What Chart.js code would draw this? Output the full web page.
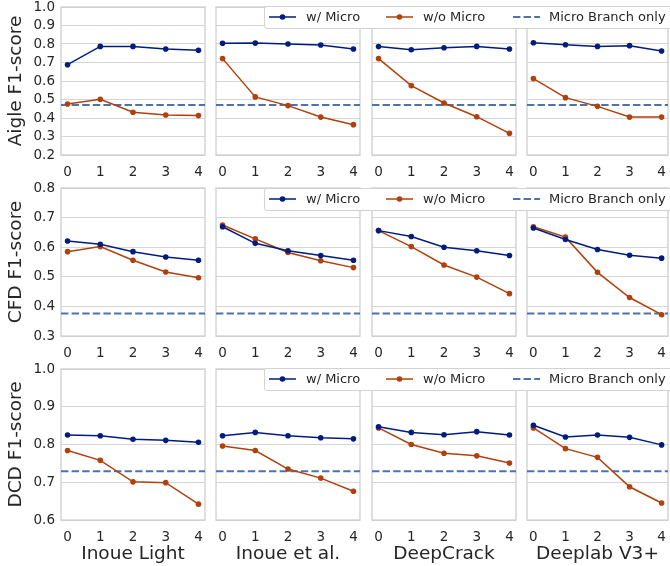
<!DOCTYPE html>
<html>
<head>
<meta charset="utf-8">
<script src="https://cdn.jsdelivr.net/npm/chart.js@4"></script>
<style>
  html, body { margin: 0; padding: 0; overflow: hidden; background: #fff; }
  #wrap { position: relative; width: 672px; height: 566px; }
  #wrap canvas { position: absolute; left: 0; top: 0; }
  .legend { position: absolute; left: 264px; width: 420px; height: 23px; box-sizing: border-box;
            background: #fff; border: 1px solid #d2d2d2; border-radius: 3px; z-index: 2;
            font: 13px "DejaVu Sans"; color: #262626; }
  .legend span { position: absolute; top: 0; line-height: 20px; white-space: nowrap; }
  .legend svg { position: absolute; top: 0; }
</style>
</head>
<body>
<div id="wrap"></div>
<script>
const steps = [0, 1, 2, 3, 4];
const models = ['Inoue Light', 'Inoue et al.', 'DeepCrack', 'Deeplab V3+'];
const datasetNames = ['Aigle', 'CFD', 'DCD'];
const seriesNames = ['w/ Micro', 'w/o Micro', 'Micro Branch only'];

// one inner array per model (Inoue Light, Inoue et al., DeepCrack, Deeplab V3+)
const aigleWith = [
  [0.688, 0.787, 0.787, 0.773, 0.766],
  [0.804, 0.805, 0.800, 0.795, 0.773],
  [0.786, 0.769, 0.780, 0.787, 0.773],
  [0.807, 0.796, 0.787, 0.791, 0.762]
];
const aigleWithout = [
  [0.476, 0.501, 0.431, 0.416, 0.413],
  [0.721, 0.514, 0.467, 0.405, 0.364],
  [0.721, 0.575, 0.481, 0.407, 0.317],
  [0.613, 0.510, 0.463, 0.405, 0.405]
];
const cfdWith = [
  [0.621, 0.610, 0.585, 0.567, 0.556],
  [0.669, 0.613, 0.588, 0.572, 0.556],
  [0.656, 0.636, 0.600, 0.588, 0.572],
  [0.665, 0.626, 0.592, 0.573, 0.563]
];
const cfdWithout = [
  [0.585, 0.602, 0.556, 0.516, 0.497],
  [0.675, 0.628, 0.582, 0.554, 0.531],
  [0.656, 0.602, 0.540, 0.499, 0.443],
  [0.669, 0.634, 0.515, 0.430, 0.372]
];
const dcdWith = [
  [0.825, 0.823, 0.814, 0.811, 0.806],
  [0.823, 0.832, 0.823, 0.818, 0.815],
  [0.847, 0.832, 0.826, 0.834, 0.825],
  [0.851, 0.820, 0.825, 0.819, 0.799]
];
const dcdWithout = [
  [0.784, 0.758, 0.701, 0.699, 0.642],
  [0.796, 0.784, 0.735, 0.711, 0.676],
  [0.844, 0.800, 0.777, 0.770, 0.751],
  [0.844, 0.789, 0.766, 0.688, 0.645]
];
// Micro Branch only, per dataset
const microOnly = [0.470, 0.376, 0.729];

const aigleTicks = [0.2, 0.3, 0.4, 0.5, 0.6, 0.7, 0.8, 0.9, 1.0];
const cfdTicks = [0.3, 0.4, 0.5, 0.6, 0.7, 0.8];
const dcdTicks = [0.6, 0.7, 0.8, 0.9, 1.0];

const rows = [
  { name: datasetNames[0], withM: aigleWith, withoutM: aigleWithout, ticks: aigleTicks },
  { name: datasetNames[1], withM: cfdWith, withoutM: cfdWithout, ticks: cfdTicks },
  { name: datasetNames[2], withM: dcdWith, withoutM: dcdWithout, ticks: dcdTicks }
];

// layout
const W = 672, H = 566;
const colLeft = [61, 216, 372, 527];
const panelW = 144;
const rowTop = [7, 188, 369];
const rowH = [148, 148, 151];
const legendTop = [6, 188, 368];
const xMin = -0.2, xMax = 4.2;

const blue = '#001c7f';
const orange = '#b1400d';
const dashBlue = '#4c72b0';
const textColor = '#262626';

Chart.defaults.font.family = '"DejaVu Sans", sans-serif';

const frame = {
  id: 'frame',
  beforeDatasetsDraw(chart) {
    const { ctx, chartArea: a } = chart;
    ctx.save();
    ctx.strokeStyle = '#cccccc';
    ctx.lineWidth = 1.25;
    ctx.strokeRect(a.left, a.top, a.right - a.left, a.bottom - a.top);
    ctx.restore();
  }
};

const wrap = document.getElementById('wrap');

function lineSet(label, vals, color) {
  return {
    label: label,
    data: steps.map((s, i) => ({ x: s, y: vals[i] })),
    borderColor: color,
    backgroundColor: color,
    borderWidth: 1.5,
    pointRadius: 2.8,
    pointBorderWidth: 0,
    tension: 0
  };
}

function makePanel(r, c) {
  const row = rows[r];
  const canvas = document.createElement('canvas');
  canvas.width = W;
  canvas.height = H;
  wrap.appendChild(canvas);

  const left = colLeft[c], top = rowTop[r];
  const yW = c === 0 ? left : 0;
  const xH = r === 2 ? H - top - rowH[r] : 30;

  new Chart(canvas, {
    type: 'line',
    data: {
      datasets: [
        lineSet(seriesNames[0], row.withM[c], blue),
        lineSet(seriesNames[1], row.withoutM[c], orange),
        {
          label: seriesNames[2],
          data: [{ x: xMin, y: microOnly[r] }, { x: xMax, y: microOnly[r] }],
          borderColor: dashBlue,
          borderWidth: 2,
          borderDash: [7.4, 3.2],
          pointRadius: 0
        }
      ]
    },
    options: {
      responsive: false,
      animation: false,
      events: [],
      layout: {
        padding: { left: left - yW, top: top, right: W - left - panelW, bottom: H - top - rowH[r] - xH }
      },
      plugins: { legend: { display: false }, tooltip: { enabled: false } },
      scales: {
        x: {
          type: 'linear',
          min: xMin,
          max: xMax,
          afterBuildTicks: s => { s.ticks = steps.map(v => ({ value: v })); },
          afterFit: s => { s.height = xH; s.paddingLeft = 0; s.paddingRight = 0; },
          grid: { display: false },
          border: { display: false },
          ticks: { padding: 1.5, color: textColor, font: { size: 13.5 }, maxRotation: 0, autoSkip: false },
          title: {
            display: r === 2,
            text: models[c],
            color: textColor,
            font: { size: 18.5 },
            padding: { top: 0, bottom: 1 }
          }
        },
        y: {
          min: row.ticks[0],
          max: row.ticks[row.ticks.length - 1],
          afterBuildTicks: s => { s.ticks = row.ticks.map(v => ({ value: v })); },
          afterFit: s => { s.width = yW; s.paddingTop = 0; s.paddingBottom = 0; },
          grid: { color: '#d6d6d6', lineWidth: 1, drawTicks: false },
          border: { display: false },
          ticks: {
            display: c === 0,
            autoSkip: false,
            padding: 6,
            color: textColor,
            font: { size: 13.5 },
            callback: v => v.toFixed(1)
          },
          title: {
            display: c === 0,
            text: row.name + ' F1-score',
            color: textColor,
            font: { size: 18.5 },
            padding: { top: 5, bottom: 0 }
          }
        }
      }
    },
    plugins: [frame]
  });
}

for (let r = 0; r < 3; r++) {
  for (let c = 0; c < 4; c++) makePanel(r, c);
}

// shared legend, one per row
const iconX = [4, 121, 248];
const textX = [41, 158, 284];
function legendIcon(i) {
  if (i === 2) {
    return `<line x1="0" y1="10" x2="27" y2="10" stroke="${dashBlue}" stroke-width="2" stroke-dasharray="7.4 3.2"/>`;
  }
  const col = i === 0 ? blue : orange;
  return `<line x1="0" y1="10" x2="27" y2="10" stroke="${col}" stroke-width="1.5"/>` +
         `<circle cx="13.5" cy="10" r="2.8" fill="${col}"/>`;
}
for (let r = 0; r < 3; r++) {
  const box = document.createElement('div');
  box.className = 'legend';
  box.style.top = legendTop[r] + 'px';
  box.innerHTML = seriesNames.map((name, i) =>
    `<svg width="28" height="21" style="left:${iconX[i]}px">${legendIcon(i)}</svg>` +
    `<span style="left:${textX[i]}px">${name}</span>`
  ).join('');
  wrap.appendChild(box);
}
</script>
</body>
</html>
